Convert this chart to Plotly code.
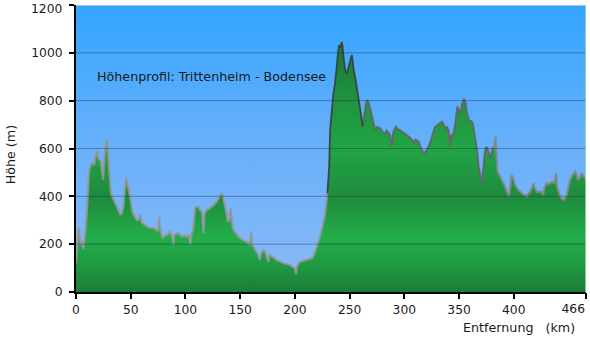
import plotly.graph_objects as go

# Elevation profile Trittenheim -> Bodensee: distance (km) and altitude (m)
km = [0, 1, 2.5, 3.5, 4.5, 5.5, 6.5, 7.5, 8.8, 10, 11, 12, 13.5, 15, 16.5, 17.5, 19.5, 20.5,
      22.5, 23.5, 24.7, 26, 27, 28, 29, 30, 31, 32, 34, 36.3, 38.5, 40.8, 42, 43.3, 44.5, 46,
      47, 48.4, 50, 51.5, 53, 54.5, 56, 57.5, 59, 60, 62, 65, 68, 71, 73, 75, 76, 77, 79, 81,
      83.5, 86, 88, 89, 90, 92.6, 95, 97, 99, 101, 103, 104.5, 105.7, 107, 108.8, 110, 111.8,
      113, 115, 116.5, 117.5, 119.5, 122, 124, 126, 128.6, 131, 133, 134, 136, 137.5, 138.6,
      140, 141.4, 142.5, 143.8, 146, 148.4, 151, 153, 155, 157.5, 159, 160, 161, 163.6, 166,
      168, 169, 171, 172.8, 174, 175.8, 177, 178.9, 181, 183.5, 186, 189.5, 192, 195.6, 198,
      200, 201, 202, 204.8, 207, 210.9, 213, 215.4, 217, 218.5, 220, 221.5, 223, 224.6, 226,
      227.6, 229.7, 230.5, 231.3, 232.2, 233.5, 235.2, 236.7, 238, 238.9, 240, 240.7, 241.5,
      242.8, 243.5, 244.4, 245.9, 247, 248, 249, 250.5, 252, 253, 253.5, 255, 256.6, 258, 259,
      260.5, 262, 263, 264, 265, 266.3, 267.5, 268.7, 271, 273.3, 275, 277.9, 280, 282.4, 284,
      285.5, 287, 288.5, 290, 292.5, 294, 296, 298, 300.7, 303, 305.3, 307, 308.3, 310, 312.9,
      314.5, 316, 318, 320, 322, 324, 326.6, 328, 330.3, 332, 334.3, 336, 337.3, 339, 340.3,
      341.9, 343, 344.3, 346.4, 348.5, 350, 351, 352.5, 353.4, 354.6, 356, 357, 359.5, 361,
      362.6, 363.5, 364.7, 366.8, 367.8, 368.6, 370.2, 371, 372.3, 373.5, 374.8, 376, 377.8,
      379, 380.8, 382, 383.3, 384, 385, 386, 387.5, 389, 390.5, 392, 394, 395, 396, 397, 398,
      399, 401.3, 403.5, 405.8, 408, 410.4, 412, 413, 415, 416.5, 418, 419.5, 421, 423, 425.6,
      427, 428, 430, 432, 434.8, 437, 438.8, 439.5, 441, 442.4, 444, 445.4, 447, 448.5, 450,
      451.5, 453, 454.5, 456, 457.5, 459, 460.5, 462, 463.5, 465, 466]
hoehe = [120, 200, 270, 230, 195, 215, 180, 210, 260, 340, 440, 510, 530, 540, 530, 560, 590, 555,
         550, 520, 470, 560, 610, 640, 600, 550, 470, 410, 390, 365, 345, 322, 330, 357, 420, 478,
         455, 425, 380, 336, 318, 308, 300, 305, 322, 290, 285, 273, 268, 267, 262, 255, 315, 262, 224, 235,
         240, 252, 230, 196, 240, 246, 240, 231, 238, 231, 240, 200, 245, 260, 350, 355, 357,
         345, 336, 245, 330, 343, 350, 357, 365, 378, 395, 413, 405, 364, 330, 294,
         300, 350, 290, 259, 245, 231, 222, 217, 210, 204, 200, 252, 200, 176, 160,
         134, 160, 175, 168, 150, 127, 155, 148, 140, 134, 128, 120, 118, 113, 105,
         99, 75, 110, 127, 130, 134, 138, 141, 150, 168, 185, 210, 232, 259, 290,
         329, 413, 460, 520, 677, 760, 831, 872, 930, 984, 1025, 1032, 1020,
         1046, 1030, 984, 928, 915, 921, 940, 963, 991, 960, 935, 900, 858, 820, 789,
         740, 691, 730, 775, 790, 803, 790, 768, 719, 677, 690, 684, 670, 663, 675,
         665, 656, 610, 670, 691, 680, 677, 670, 663, 655, 645, 635, 622, 636, 630,
         610, 593, 580, 590, 607, 630, 670, 690, 698, 705, 712, 700, 684, 690, 677,
         610, 660, 649, 698, 775, 760, 747, 780, 796, 808, 790, 754, 712, 715,
         705, 680, 642, 580, 524, 510, 454, 470, 520, 580, 607, 600, 573,
         560, 607, 600, 650, 590, 510, 496, 480, 470, 455, 440, 415, 405, 405, 440, 489,
         480, 447, 430, 419, 410, 405, 400, 410, 419, 435, 454, 430, 419, 420, 419,
         405, 435, 454, 450, 461, 455, 497, 440, 420, 398, 390, 384, 395, 405, 440,
         470, 482, 495, 503, 490, 468, 480, 496, 485, 475, 470]

x_ticks = [0, 50, 100, 150, 200, 250, 300, 350, 400, 466]
x_labels = ["0", "50", "100", "150", "200", "250", "300", "350", "400", "466"]
y_ticks = [0, 200, 400, 600, 800, 1000, 1200]
y_labels = ["0", "200", "400", "600", "800", "1000", "1200"]

x_max = x_ticks[-1]
y_max = y_ticks[-1]

fig = go.Figure()

# sky-blue backdrop with a vertical gradient
fig.add_trace(go.Scatter(
    x=[0, x_max, x_max, 0, 0], y=[0, 0, y_max, y_max, 0],
    mode="lines", line=dict(width=0), fill="toself",
    fillgradient=dict(type="vertical", start=0, stop=y_max,
                      colorscale=[[0, "#8cbaf6"], [0.5, "#69b0fa"], [1, "#33a5ff"]]),
    hoverinfo="skip", showlegend=False))

# green terrain fill with banded vertical gradient
fig.add_trace(go.Scatter(
    x=km, y=hoehe, mode="lines", line=dict(width=0), fill="tozeroy",
    fillgradient=dict(type="vertical", start=0, stop=y_max,
                      colorscale=[[0, "#1b7c37"], [0.09, "#1f9942"], [0.19, "#23ad4b"],
                                  [0.33, "#1e8b3d"], [0.5, "#22a446"], [0.66, "#1f9441"],
                                  [0.85, "#1a7a35"], [1, "#156429"]]),
    hoverinfo="skip", showlegend=False))

# gray outline of the profile, darker over the high section
n = len(km)
def idx(v):
    return next(i for i, k in enumerate(km) if k >= v)

segments = [
    (0, idx(229) + 1, "rgba(150,150,150,0.85)", 2.2),
    (idx(262), idx(380) + 1, "rgba(100,100,100,0.9)", 2.0),
    (idx(380), n, "rgba(135,135,135,0.85)", 2.2),
    (idx(229), idx(262) + 1, "rgba(60,60,60,0.9)", 1.8),
]
for s, e, col, w in segments:
    fig.add_trace(go.Scatter(x=km[s:e], y=hoehe[s:e], mode="lines",
                             line=dict(color=col, width=w),
                             hoverinfo="skip", showlegend=False))

# carrier for the overlay axis that holds the right-aligned end label
fig.add_trace(go.Scatter(x=[x_max], y=[0], xaxis="x2", mode="lines",
                         line=dict(width=0), hoverinfo="skip", showlegend=False))

# horizontal grid lines drawn over the terrain
shapes = []
for v in y_ticks[1:-1]:
    shapes.append(dict(type="line", xref="x", yref="y", x0=0, x1=x_max, y0=v, y1=v,
                       line=dict(color="rgba(25,35,60,0.38)", width=1), layer="above"))
shapes.append(dict(type="line", xref="x", yref="y", x0=0, x1=x_max, y0=y_max, y1=y_max,
                   line=dict(color="#cfcfee", width=1.5), layer="above"))
shapes.append(dict(type="line", xref="x", yref="y", x0=x_max, x1=x_max, y0=0, y1=y_max,
                   line=dict(color="#a8dcae", width=1.5), layer="above"))

family = "DejaVu Sans, Verdana, sans-serif"
tick_font = dict(family=family, size=12.3, color="#1a1a1a")
text_font = dict(family=family, size=12.7, color="#1a1a1a")

# the end labels sit inside the frame: top one nudged down, right one right-aligned
x_text = x_labels[:-1] + [""]
y_text = y_labels[:-1] + [""]

fig.update_layout(
    width=590, height=341,
    margin=dict(l=76, r=4, t=5, b=49),
    paper_bgcolor="white", plot_bgcolor="white",
    font=text_font,
    shapes=shapes,
    xaxis=dict(range=[0, x_max], tickvals=x_ticks, ticktext=x_text,
               showgrid=False, zeroline=False, showline=True, linecolor="black",
               linewidth=2, ticks="outside", ticklen=5, tickwidth=2, tickcolor="black",
               tickfont=tick_font),
    xaxis2=dict(range=[0, x_max], overlaying="x", side="bottom", anchor="y",
                tickvals=[x_ticks[-1]], ticktext=[x_labels[-1]],
                ticklabelposition="outside left", ticks="outside", ticklen=5,
                tickwidth=2, tickcolor="black", ticklabelstandoff=5,
                showgrid=False, zeroline=False, showline=False, tickfont=tick_font),
    yaxis=dict(range=[0, y_max], tickvals=y_ticks, ticktext=y_text,
               showgrid=False, zeroline=False, showline=True, linecolor="black",
               linewidth=2, ticks="outside", ticklen=5, tickwidth=2, tickcolor="black",
               tickfont=tick_font, ticklabelstandoff=4),
    annotations=[
        dict(text="Höhenprofil: Trittenheim - Bodensee", xref="paper", yref="paper",
             x=0.037, y=0.7526, xanchor="left", yanchor="middle", showarrow=False,
             font=text_font),
        dict(text="Entfernung\u00a0\u00a0\u00a0(km)", xref="paper", yref="paper",
             x=0.982, y=-0.125, xanchor="right", yanchor="middle", showarrow=False,
             font=text_font),
        dict(text="Höhe (m)", xref="paper", yref="paper", textangle=-90,
             x=-0.129, y=0.477, xanchor="center", yanchor="middle", showarrow=False,
             font=text_font),
        dict(text=y_labels[-1], xref="paper", yref="y", x=0, y=y_max,
             xanchor="right", yanchor="middle", xshift=-12, yshift=-3.5, showarrow=False,
             font=tick_font),
    ],
)

fig.write_html("out.html")
